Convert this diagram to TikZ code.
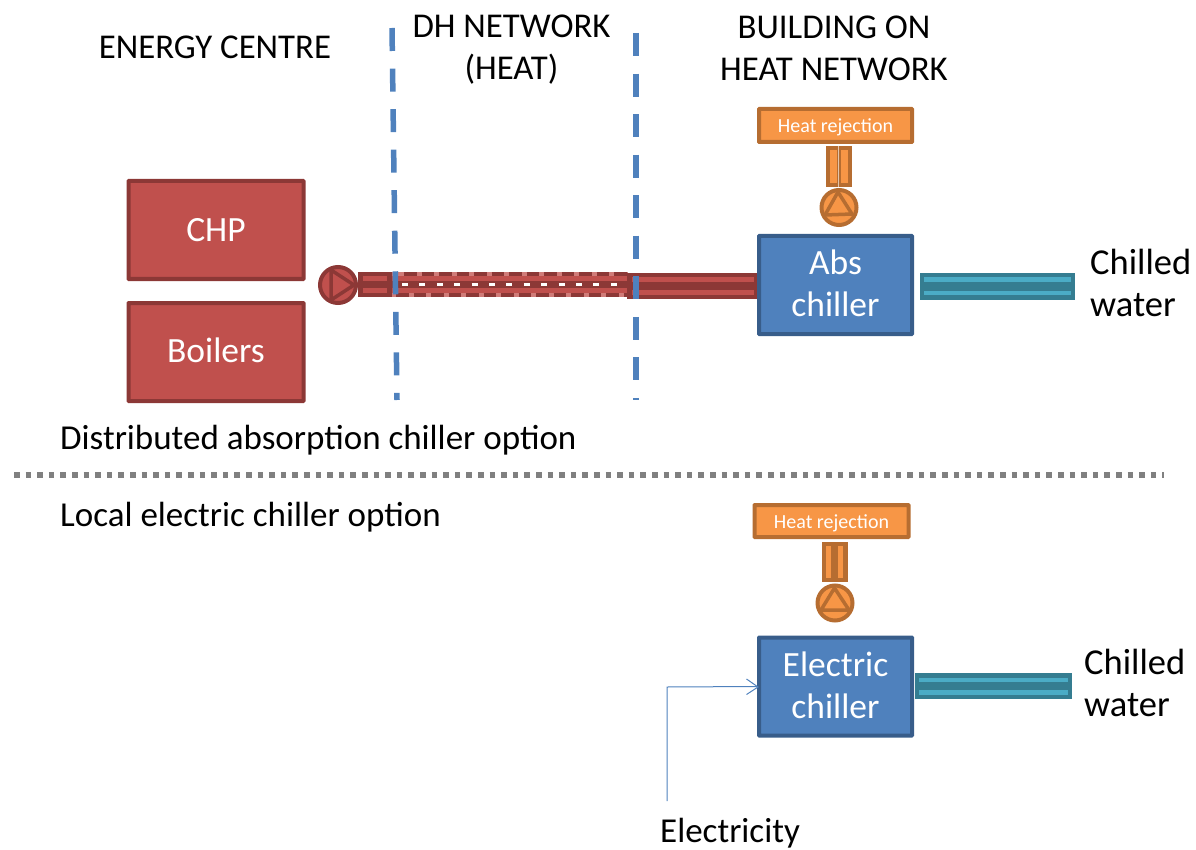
\documentclass[tikz,border=0pt]{standalone}
\usepackage{fontspec}
\setmainfont{Carlito}
\definecolor{redF}{HTML}{C0504D}
\definecolor{redD}{HTML}{8C3836}
\definecolor{bluF}{HTML}{4F81BD}
\definecolor{bluD}{HTML}{385D8A}
\definecolor{oraF}{HTML}{F79646}
\definecolor{oraD}{HTML}{B66D31}
\definecolor{teaF}{HTML}{4BACC6}
\definecolor{teaD}{HTML}{357D91}
\tikzset{
  x=1pt,y=-1pt,
  redbox/.style={draw=redD,fill=redF,line width=4pt,text=white,font=\fontsize{35.5}{42}\selectfont,align=center,inner sep=0pt,rounded corners=0.5pt},
  blubox/.style={draw=bluD,fill=bluF,line width=4pt,text=white,font=\fontsize{35.5}{42}\selectfont,align=center,inner sep=0pt,rounded corners=0.5pt},
  orabox/.style={draw=oraD,fill=oraF,line width=4pt,text=white,font=\fontsize{20}{24}\selectfont,inner sep=0pt,rounded corners=0.5pt,text height=17pt,text depth=3pt},
  label/.style={text=black,font=\fontsize{34.8}{42}\selectfont,align=center,inner sep=0pt},
  leftlabel/.style={text=black,font=\fontsize{35}{42}\selectfont,align=left,inner sep=0pt},
  cwlabel/.style={text=black,font=\fontsize{36.5}{42}\selectfont,align=left,inner sep=0pt},
  boundary/.style={draw=bluF,line width=5.5pt,dash pattern=on 23pt off 17.55pt},
  pumpcirc/.style={circle,minimum size=#1,inner sep=0pt,line width=4pt},
}
\newcommand{\hpipe}[7]{% x1,x2,ytop,ybot,fill,dark,inset
  \fill[#6] (#1,#3) rectangle (#2,#4);
  \fill[#5] ({#1+#7},{#3+4.5}) rectangle ({#2-#7},{#3+9});
  \fill[#5] ({#1+#7},{#4-9}) rectangle ({#2-#7},{#4-4.5});
}
\begin{document}
\begin{tikzpicture}
\useasboundingbox (0,0) rectangle (1196,850);
% headings
\node[label] (ec) at (215,47) {ENERGY CENTRE};
\node[label] (dh) at (511.5,50) {DH NETWORK\\(HEAT)};
\node[label] (bh) at (834,48) {BUILDING ON\\HEAT NETWORK};
% energy centre
\node[redbox,minimum width=175pt,minimum height=98pt] (chp) at (216,230) {CHP};
\node[redbox,minimum width=175pt,minimum height=98pt] (boil) at (216,352) {Boilers\rule[-3pt]{0pt}{3pt}};
% DH pump and pipes
\hpipe{358}{392}{272}{297}{redF}{redD}{5}
\fill[redF!75!white] (392,272.5) rectangle (628,296.5);
\fill[redF] (392,276) rectangle (628,293);
\draw[redD,line width=4pt,dash pattern=on 12.5pt off 5pt] (404,274) -- (628,274);
\draw[redD,line width=4pt,dash pattern=on 12.5pt off 5pt] (396,295) -- (628,295);
\draw[redD,line width=7pt] (392,284.5) -- (628,284.5);
\draw[white,line width=3pt,dash pattern=on 6pt off 11.4pt] (402,284.5) -- (627,284.5);
\hpipe{627}{758}{273}{299}{redF}{redD}{4.5}
\node[pumpcirc=36pt,draw=redD,fill=redF] (hp) at (338,285) {};
\draw[redD,line width=3.5pt,line join=round] (331,270) -- (354,285) -- (331,300) -- cycle;
% boundaries
\coordinate (b1t) at (392,28); \coordinate (b1b) at (397,400);
\coordinate (b2t) at (636,33); \coordinate (b2b) at (636,400);
\draw[boundary] (b1t) -- (b1b);
\draw[boundary] (b2t) -- (b2b);
% absorption chiller
\node[blubox,minimum width=153pt,minimum height=98pt] (abs) at (835.5,285) {Abs\\chiller\rule[-3pt]{0pt}{3pt}};
\node[orabox,minimum width=153pt,minimum height=33pt] (hr1) at (835.5,125.5) {Heat rejection};
\fill[oraD] (826,146) rectangle (852,187);
\fill[oraF] (830,150) rectangle (837,183);
\fill[oraF] (841,150) rectangle (848,183);
\draw[white!60!oraD,line width=0.8pt] (838.7,146) -- (838.7,187);
\node[pumpcirc=35pt,draw=oraD,fill=oraF] (p1) at (839,207.5) {};
\draw[oraD,line width=3.5pt,line join=round] (825,215) -- (838,192) -- (852,214) -- cycle;
\hpipe{919.5}{1075}{273}{299.5}{teaF}{teaD}{4.5}
\node[cwlabel,anchor=west] (cw1) at (1090,283) {Chilled\\water};
% captions and divider
\node[leftlabel,anchor=west] (t1) at (60,440) {Distributed absorption chiller option};
\coordinate (da) at (14,475); \coordinate (db) at (1164,475);
\draw[gray,line width=5.5pt,dash pattern=on 5.6pt off 6pt] (da) -- (db);
\node[leftlabel,anchor=west] (t2) at (60,517) {Local electric chiller option};
% electric chiller
\node[blubox,minimum width=153pt,minimum height=98pt] (ec2) at (835.5,686.5) {Electric\\chiller\rule[-2pt]{0pt}{2pt}};
\node[orabox,minimum width=154pt,minimum height=32pt] (hr2) at (831.5,521) {Heat rejection};
\fill[oraD] (821.5,541.5) rectangle (847.5,582);
\fill[oraF] (826,546) rectangle (830.5,578);
\fill[oraF] (838,546) rectangle (843,578);
\node[pumpcirc=35pt,draw=oraD,fill=oraF] (p2) at (835,603) {};
\draw[oraD,line width=3.5pt,line join=round] (821,610) -- (834.5,588) -- (849,610) -- cycle;
\hpipe{914.5}{1072}{673}{699}{teaF}{teaD}{4.5}
\node[cwlabel,anchor=west] (cw2) at (1084,683) {Chilled\\water};
% electricity
\node[leftlabel,anchor=west] (el) at (660,833.5) {Electricity};
\coordinate (e0) at (667,801);
\draw[bluF,line width=1pt] (e0) -- (667,687) -- (ec2.west);
\draw[bluF,line width=1pt] (746.5,679) -- (758,687) -- (746.5,694.5);
\end{tikzpicture}
\end{document}
